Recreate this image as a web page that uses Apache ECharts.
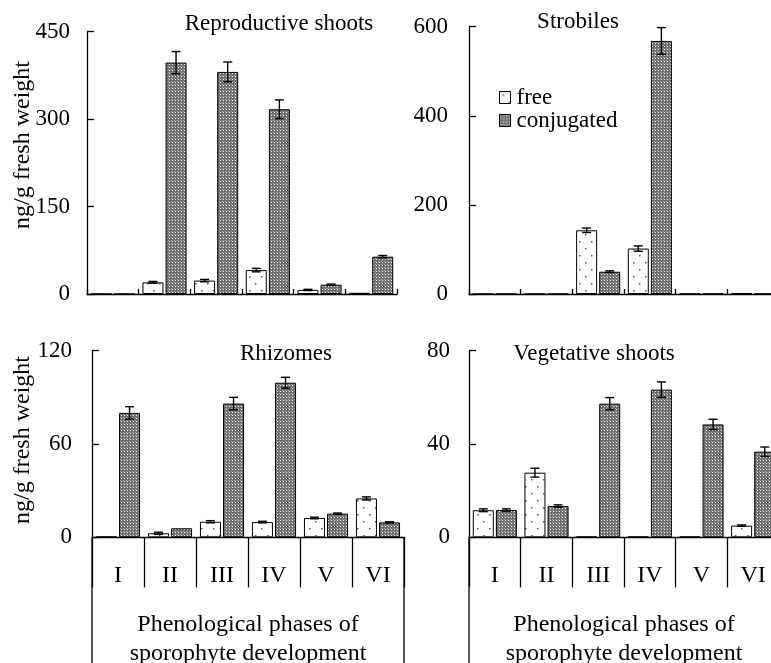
<!DOCTYPE html>
<html><head><meta charset="utf-8">
<script src="https://cdn.jsdelivr.net/npm/echarts@6/dist/echarts.min.js"></script>
<style>html,body{margin:0;padding:0;background:#fff}#c{width:771px;height:663px}</style>
</head><body><div id="c"></div>
<script>
const phases = ['I', 'II', 'III', 'IV', 'V', 'VI'];
const seriesNames = ['free', 'conjugated'];
const panelTitles = ['Reproductive shoots', 'Strobiles', 'Rhizomes', 'Vegetative shoots'];
const yAxisName = 'ng/g fresh weight';
const xAxisName = 'Phenological phases of\nsporophyte development';

// Reproductive shoots
const reproFree = [0, 20, 23, 41, 7, 2];
const reproFreeErr = [0, 1.5, 2, 3, 1, 0];
const reproConj = [0, 397, 381, 317, 16, 64];
const reproConjErr = [0, 19, 17, 16, 1, 2];
// Strobiles
const strobFree = [0, 0, 143, 102, 0.6, 2];
const strobFreeErr = [0, 0, 5, 6, 0, 0];
const strobConj = [0, 0, 50, 568, 0.6, 0.6];
const strobConjErr = [0, 0, 2, 30, 0, 0];
// Rhizomes
const rhizFree = [0.5, 2.6, 10, 9.8, 12.4, 25];
const rhizFreeErr = [0, 0.7, 0.7, 0.5, 0.5, 1];
const rhizConj = [80, 5.8, 86, 99.4, 15.2, 9.6];
const rhizConjErr = [4, 0, 4, 3.5, 0.4, 0.4];
// Vegetative shoots
const vegFree = [11.6, 27.7, 0.3, 0.3, 0.3, 5];
const vegFreeErr = [0.6, 1.9, 0, 0, 0, 0.3];
const vegConj = [11.7, 13.4, 57.3, 63.3, 48.4, 36.7];
const vegConjErr = [0.5, 0.5, 2.6, 3.3, 2.2, 2];

const yMaxes = [450, 600, 120, 80];
const ySteps = [150, 200, 60, 40];

// ---- layout & style ----
const FONT = '"Liberation Serif", "Times New Roman", serif';
const grids = [
  {left: 87, top: 31.7, width: 310, height: 262.3},
  {left: 469, top: 26.7, width: 310, height: 267.3},
  {left: 92, top: 350.7, width: 312, height: 186.6},
  {left: 469, top: 350.7, width: 310, height: 186.6}
];
const labelMargins = [17, 21, 20, 19];

function makeTile(w, h, draw) {
  const c = document.createElement('canvas');
  c.width = w; c.height = h;
  draw(c.getContext('2d'));
  return c;
}
const conjTile = makeTile(3, 3, g => {
  g.fillStyle = '#6e6e6e'; g.fillRect(0, 0, 3, 3);
  g.fillStyle = '#f4f4f4'; g.fillRect(1, 1, 1, 1);
  g.fillStyle = '#a8a8a8'; g.fillRect(0, 0, 1, 1);
});
const freeTile = makeTile(12, 14, g => {
  g.fillStyle = '#fff'; g.fillRect(0, 0, 12, 14);
  g.fillStyle = '#555'; g.fillRect(3, 3, 1.5, 1.5); g.fillRect(9, 10, 1.5, 1.5);
});
const fills = [{image: freeTile, repeat: 'repeat'}, {image: conjTile, repeat: 'repeat'}];

const panels = [
  [reproFree, reproConj, reproFreeErr, reproConjErr],
  [strobFree, strobConj, strobFreeErr, strobConjErr],
  [rhizFree, rhizConj, rhizFreeErr, rhizConjErr],
  [vegFree, vegConj, vegFreeErr, vegConjErr]
];

const BAR_W = 21;
const OFFSET = (BAR_W * 1.1) / 2;

function errSeries(gi, vals, errs, side) {
  const data = vals.map((v, i) => [i, v, errs[i]]).filter(d => d[2] > 0);
  return {
    type: 'custom', xAxisIndex: gi, yAxisIndex: gi, data, z: 10, silent: true,
    renderItem: (params, api) => {
      const c = api.value(0), v = api.value(1), e = api.value(2);
      const top = api.coord([c, v + e]), bot = api.coord([c, v - e]);
      const x = top[0] + side * OFFSET;
      const hw = 4.5;
      const st = {stroke: '#000', lineWidth: 1.4};
      return {type: 'group', children: [
        {type: 'line', shape: {x1: x, y1: top[1], x2: x, y2: bot[1]}, style: st},
        {type: 'line', shape: {x1: x - hw, y1: top[1], x2: x + hw, y2: top[1]}, style: st},
        {type: 'line', shape: {x1: x - hw, y1: bot[1], x2: x + hw, y2: bot[1]}, style: st}
      ]};
    }
  };
}

const xAxes = [], yAxes = [], series = [];
panels.forEach((p, gi) => {
  const bottom = gi >= 2;
  xAxes.push({
    type: 'category', gridIndex: gi, data: phases, boundaryGap: true,
    axisLine: {lineStyle: {color: '#000', width: 1.3}},
    axisTick: bottom ? {show: true, inside: false, length: 50, interval: 0, lineStyle: {color: '#000', width: 1.3}}
                     : {show: true, inside: true, length: 5, interval: 0, lineStyle: {color: '#000', width: 1.3}},
    axisLabel: bottom ? {show: true, interval: 0, margin: 26, color: '#000', fontFamily: FONT, fontSize: 24}
                      : {show: false},
    name: bottom ? xAxisName : '',
    nameLocation: 'middle', nameGap: 73,
    nameTextStyle: {color: '#000', fontFamily: FONT, fontSize: 24, lineHeight: 29}
  });
  yAxes.push({
    type: 'value', gridIndex: gi, min: 0, max: yMaxes[gi], interval: ySteps[gi],
    axisLine: {show: true, lineStyle: {color: '#000', width: 1.3}},
    axisTick: {show: true, inside: true, length: 7, lineStyle: {color: '#000', width: 1.3}},
    axisLabel: {color: '#000', fontFamily: FONT, fontSize: 23, margin: labelMargins[gi]},
    splitLine: {show: false}
  });
  [0, 1].forEach(k => {
    series.push({
      type: 'bar', name: seriesNames[k], xAxisIndex: gi, yAxisIndex: gi, data: p[k],
      barWidth: BAR_W, barGap: '10%',
      itemStyle: {color: fills[k], borderColor: '#000', borderWidth: 1},
      emphasis: {disabled: true}
    });
  });
  series.push(errSeries(gi, p[0], p[2], -1));
  series.push(errSeries(gi, p[1], p[3], 1));
});

const H = 663;
const graphics = [];
const titlePos = [[279, 24], [578, 22], [286, 354], [594, 354]];
panelTitles.forEach((t, i) => graphics.push({
  type: 'text', x: titlePos[i][0], y: titlePos[i][1],
  style: {text: t, font: '23px ' + FONT, fill: '#000', textAlign: 'center', textVerticalAlign: 'middle', align: 'center', verticalAlign: 'middle'}
}));
[[23, 145], [23, 440]].forEach(pos => graphics.push({
  type: 'text', x: pos[0], y: pos[1], rotation: Math.PI / 2,
  style: {text: yAxisName, font: '24px ' + FONT, fill: '#000', textAlign: 'center', textVerticalAlign: 'middle', align: 'center', verticalAlign: 'middle'}
}));
[2, 3].forEach(gi => {
  const g = grids[gi];
  const y0 = g.top + g.height;
  [g.left, g.left + g.width].forEach(x => graphics.push({
    type: 'line', shape: {x1: x, y1: y0, x2: x, y2: H}, style: {stroke: '#000', lineWidth: 1.3}
  }));
});

const chart = echarts.init(document.getElementById('c'), null, {renderer: 'canvas'});
chart.setOption({
  backgroundColor: '#fff',
  animation: false,
  textStyle: {fontFamily: FONT},
  grid: grids.map(g => Object.assign({containLabel: false, outerBoundsMode: 'none'}, g)),
  xAxis: xAxes, yAxis: yAxes, series,
  legend: {
    data: seriesNames, orient: 'vertical', left: 494, top: 81,
    itemWidth: 11, itemHeight: 12, itemGap: 0, icon: 'rect',
    itemStyle: {borderColor: '#000', borderWidth: 1},
    textStyle: {color: '#000', fontFamily: FONT, fontSize: 23, lineHeight: 21, padding: [0, 0, 0, 1]},
    selectedMode: false
  },
  graphic: graphics
});
</script></body></html>
